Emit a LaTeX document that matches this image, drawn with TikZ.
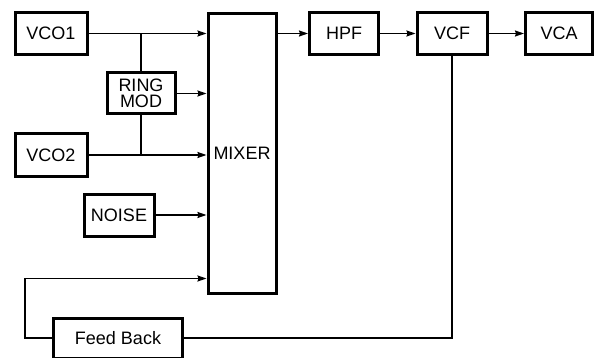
\documentclass[tikz,border=0pt]{standalone}
\usepackage{fontspec}
\setmainfont{Liberation Sans}
\usepackage{tikz}
\usetikzlibrary{arrows.meta, positioning, calc}

\begin{document}
\begin{tikzpicture}[x=1pt, y=-1pt,
		blk/.style={draw, line width=3pt, inner sep=1pt, minimum height=42pt, align=center, font=\fontsize{18}{16}\selectfont},
		sig/.style={line width=1.5pt},
		arr/.style={sig, -{Stealth[length=9pt, width=6pt, inset=1pt]}}]
	\useasboundingbox (0,0) rectangle (596,358);
	\node[blk, minimum width=72pt] (vcoone) at (51,33.5) {VCO1};
	\node[blk, minimum width=68pt, minimum height=41pt] (ringmod) at (141,93.5) {RING\\MOD};
	\node[blk, minimum width=72pt] (vcotwo) at (51,155) {VCO2};
	\node[blk, minimum width=68pt, minimum height=280pt] (mixer) at (242,153.5) {MIXER};
	\node[blk, minimum width=70pt] (noise) at (119,215) {NOISE};
	\node[blk, minimum width=129pt, minimum height=40pt] (feedback) at (118,338) {Feed Back};
	\node[blk, minimum width=69pt] (hpf) at (344,33.5) {HPF};
	\node[blk, minimum width=70pt] (vcf) at (452,33.5) {VCF};
	\node[blk, minimum width=67pt] (vca) at (559,33.5) {VCA};

	\draw[arr] (vcoone) -- (vcoone -| mixer.west);
	\draw[arr] (ringmod) -- (ringmod -| mixer.west);
	\draw[arr] (vcotwo) -- (vcotwo -| mixer.west);
	\draw[arr] (noise) -- (noise -| mixer.west);
	\draw[sig] (vcoone -| ringmod) -- (ringmod.north);
	\draw[sig] (ringmod.south) -- (vcotwo -| ringmod);
	\draw[arr] (feedback.west) -- ++(-27,0) |- ([yshift=16.5pt]mixer.south west);
	\draw[arr] (mixer.east |- hpf) -- (hpf);
	\draw[arr] (hpf) -- (vcf);
	\draw[arr] (vcf) -- (vca);
	\draw[sig] (vcf.south) -- (vcf |- feedback) -- (feedback.east);
\end{tikzpicture}
\end{document}
